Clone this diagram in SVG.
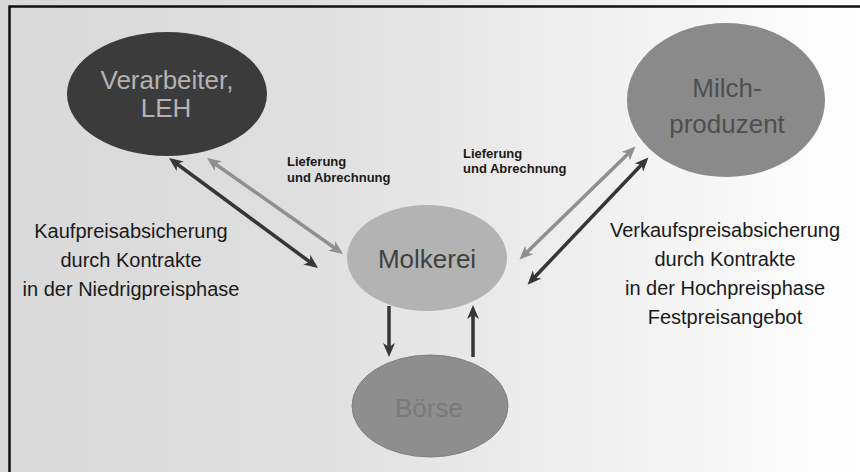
<svg xmlns="http://www.w3.org/2000/svg" width="860" height="472" viewBox="0 0 860 472">
<defs>
<linearGradient id="bg" x1="0" y1="0" x2="1" y2="0">
<stop offset="0" stop-color="#d9d9d9"/>
<stop offset="0.35" stop-color="#dfdfdf"/>
<stop offset="1" stop-color="#ffffff"/>
</linearGradient>
<marker id="ad" viewBox="0 0 14 12" refX="9" refY="6" markerWidth="14" markerHeight="12" markerUnits="userSpaceOnUse" orient="auto-start-reverse">
<path d="M0,0 L14,6 L0,12 L4,6 z" fill="#363636"/>
</marker>
<marker id="ag" viewBox="0 0 14 12" refX="9" refY="6" markerWidth="14" markerHeight="12" markerUnits="userSpaceOnUse" orient="auto-start-reverse">
<path d="M0,0 L14,6 L0,12 L4,6 z" fill="#8f8f8f"/>
</marker>
</defs>
<style>
text{font-family:"Liberation Sans",Arial,sans-serif;}
.node{font-size:26px;text-anchor:middle;}
.big{font-size:20px;fill:#1a1a1a;text-anchor:middle;}
.small{font-size:13px;font-weight:bold;fill:#1a1a1a;}
.dark{stroke:#363636;stroke-width:3.5;fill:none;}
.gray{stroke:#8f8f8f;stroke-width:3.5;fill:none;}
</style>
<rect x="0" y="0" width="860" height="472" fill="url(#bg)"/>
<path d="M9.5,472 V6.5 H860" fill="none" stroke="#111" stroke-width="2.5"/>

<g id="verarbeiter">
<ellipse cx="167" cy="94" rx="100" ry="62" fill="#3b3b3b"/>
<text class="node" x="167" y="89" fill="#b3b3b3">Verarbeiter,</text>
<text class="node" x="166" y="117" fill="#b3b3b3">LEH</text>
</g>
<g id="milchproduzent">
<ellipse cx="726" cy="100" rx="99" ry="77" fill="#8a8a8a"/>
<text class="node" x="727" y="97" fill="#4f4f4f">Milch-</text>
<text class="node" x="727" y="133" fill="#4f4f4f">produzent</text>
</g>
<g id="molkerei">
<ellipse cx="427" cy="258" rx="80" ry="53" fill="#b3b3b3"/>
<text class="node" x="427" y="268" fill="#404040">Molkerei</text>
</g>
<g id="boerse">
<ellipse cx="430" cy="406" rx="78" ry="51" fill="#8e8e8e" stroke="#7f7f7f" stroke-width="1"/>
<text class="node" x="429" y="417" fill="#7a7a7a">Börse</text>
</g>

<g id="connectors">
<line class="dark" x1="173" y1="161" x2="314" y2="265" marker-start="url(#ad)" marker-end="url(#ad)"/>
<line class="gray" x1="211" y1="161" x2="339" y2="251" marker-start="url(#ag)" marker-end="url(#ag)"/>
<line class="gray" x1="632" y1="150" x2="523" y2="256" marker-start="url(#ag)" marker-end="url(#ag)"/>
<line class="dark" x1="645" y1="161" x2="531" y2="281" marker-start="url(#ad)" marker-end="url(#ad)"/>
<line class="dark" x1="389" y1="306" x2="389" y2="352" marker-end="url(#ad)"/>
<line class="dark" x1="473" y1="357" x2="473" y2="310" marker-end="url(#ad)"/>
</g>

<g id="labels">
<text class="small" x="287" y="166">Lieferung</text>
<text class="small" x="287" y="182">und Abrechnung</text>
<text class="small" x="463" y="158">Lieferung</text>
<text class="small" x="463" y="173">und Abrechnung</text>
<text class="big" x="131" y="238">Kaufpreisabsicherung</text>
<text class="big" x="131" y="267">durch Kontrakte</text>
<text class="big" x="131" y="296">in der Niedrigpreisphase</text>
<text class="big" x="725" y="237">Verkaufspreisabsicherung</text>
<text class="big" x="725" y="266">durch Kontrakte</text>
<text class="big" x="725" y="295">in der Hochpreisphase</text>
<text class="big" x="725" y="324">Festpreisangebot</text>
</g>
</svg>
